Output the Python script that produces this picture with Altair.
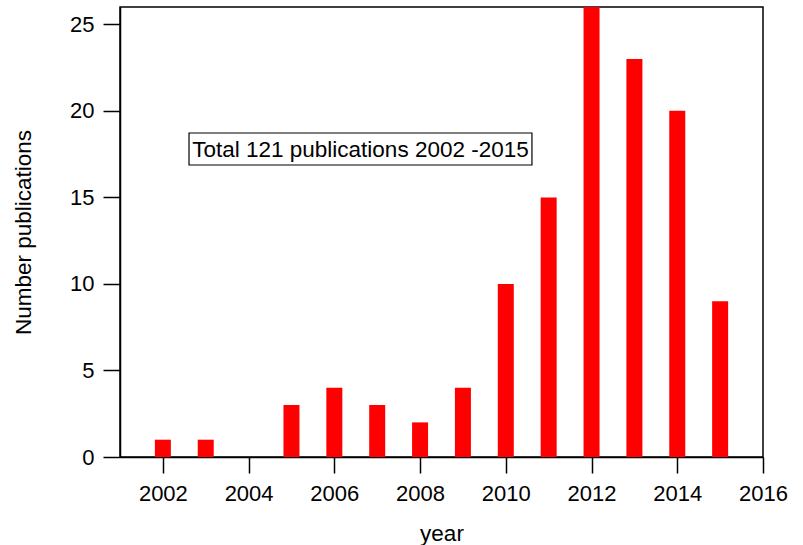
import altair as alt
import pandas as pd

# Publications per year
years = [2002, 2003, 2004, 2005, 2006, 2007, 2008, 2009, 2010, 2011, 2012, 2013, 2014, 2015]
counts = [1, 1, 0, 3, 4, 3, 2, 4, 10, 15, 26, 23, 20, 9]

x_ticks = [2002, 2004, 2006, 2008, 2010, 2012, 2014, 2016]
y_ticks = [0, 5, 10, 15, 20, 25]

# Annotation box (data units) and its label
note_text = "Total 121 publications 2002 -2015"
note_x = [2002.61, 2010.61]
note_y = [16.87, 18.72]

FONT = "Liberation Sans"

df = pd.DataFrame({"year": years, "count": counts})

x_scale = alt.Scale(domain=[2001, 2016], nice=False, zero=False, padding=0)
y_scale = alt.Scale(domain=[0, 26], nice=False, padding=0)

bars = alt.Chart(df).mark_bar(color="#ff0000", size=16).encode(
    x=alt.X(
        "year:Q",
        scale=x_scale,
        title="year",
        axis=alt.Axis(
            values=x_ticks,
            format="d",
            grid=False,
            labelFlush=False,
            tickSize=16,
            tickColor="black",
            tickWidth=1.5,
            domainColor="black",
            domainWidth=1.5,
            labelFont=FONT,
            labelFontSize=22,
            labelColor="black",
            labelPadding=10,
            titleFont=FONT,
            titleFontSize=22.5,
            titleFontWeight="normal",
            titleColor="black",
            titlePadding=18,
        ),
    ),
    y=alt.Y(
        "count:Q",
        scale=y_scale,
        title="Number publications",
        axis=alt.Axis(
            values=y_ticks,
            grid=False,
            labelFlush=False,
            tickSize=17,
            tickColor="black",
            tickWidth=1.5,
            domainColor="black",
            domainWidth=1.5,
            labelFont=FONT,
            labelFontSize=22,
            labelColor="black",
            labelPadding=9,
            titleFont=FONT,
            titleFontSize=22.5,
            titleFontWeight="normal",
            titleColor="black",
            titlePadding=34,
        ),
    ),
)

note_df = pd.DataFrame(
    {
        "x0": [note_x[0]],
        "x1": [note_x[1]],
        "y0": [note_y[0]],
        "y1": [note_y[1]],
        "xm": [(note_x[0] + note_x[1]) / 2],
        "ym": [(note_y[0] + note_y[1]) / 2],
        "label": [note_text],
    }
)

note_box = alt.Chart(note_df).mark_rect(
    fill="white", stroke="black", strokeWidth=1.2
).encode(
    x=alt.X("x0:Q", scale=x_scale),
    x2="x1:Q",
    y=alt.Y("y0:Q", scale=y_scale),
    y2="y1:Q",
)

note_label = alt.Chart(note_df).mark_text(
    font=FONT, fontSize=22.5, color="black", align="center", baseline="middle", dy=1
).encode(
    x=alt.X("xm:Q", scale=x_scale),
    y=alt.Y("ym:Q", scale=y_scale),
    text="label:N",
)

chart = (
    alt.layer(bars, note_box, note_label)
    .properties(
        width=643,
        height=450,
        autosize=alt.AutoSizeParams(type="none"),
        padding={"left": 120, "top": 7, "right": 40, "bottom": 88},
        background="white",
    )
    .configure_view(stroke="black", strokeWidth=1.5)
)

chart.save("out.html", embed_options={"renderer": "svg", "actions": False})
